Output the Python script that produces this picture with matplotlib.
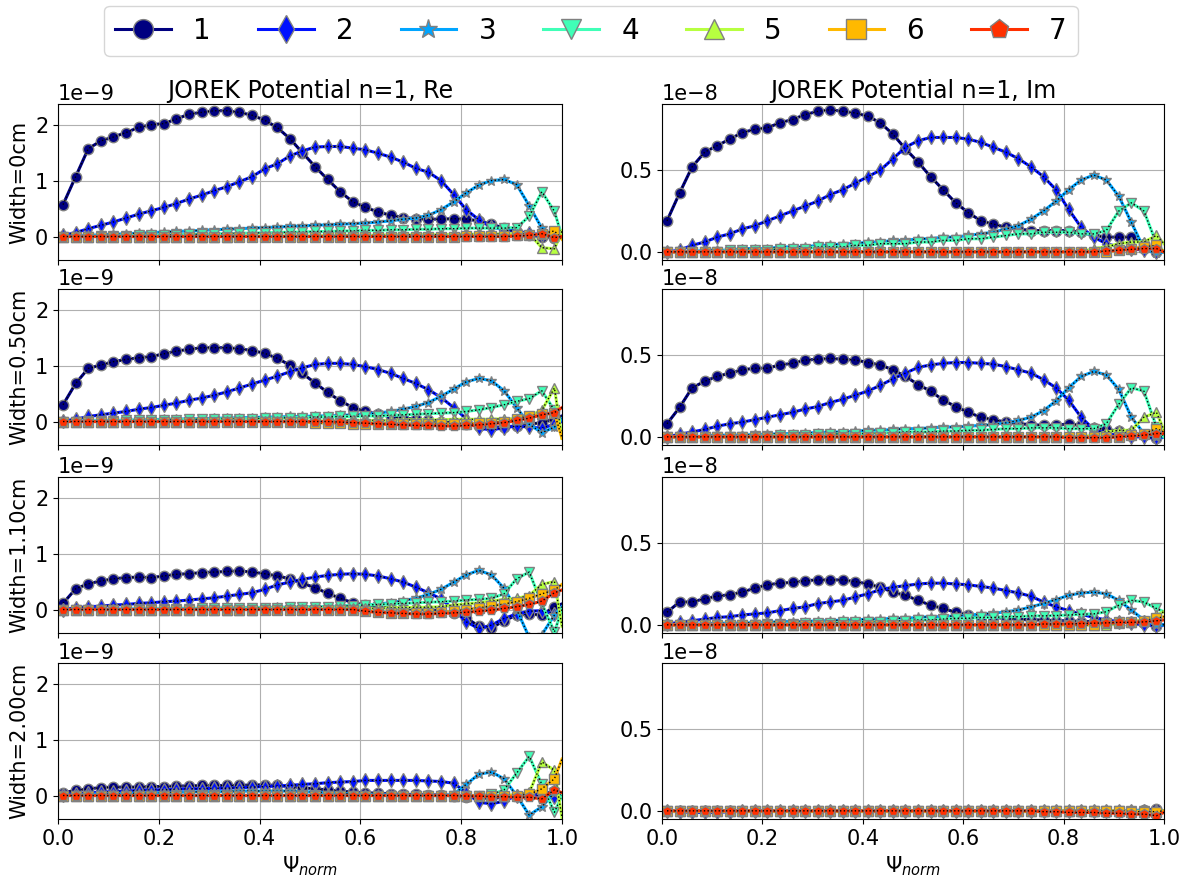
import matplotlib.pyplot as plt
import numpy as np

# radial coordinate (psi_norm) of the sampled points
psi = [0.010, 0.035, 0.060, 0.085, 0.110, 0.135, 0.160, 0.185, 0.210, 0.235,
       0.260, 0.285, 0.310, 0.335, 0.360, 0.385, 0.410, 0.435, 0.460, 0.485,
       0.510, 0.535, 0.560, 0.585, 0.610, 0.635, 0.660, 0.685, 0.710, 0.735,
       0.760, 0.785, 0.810, 0.835, 0.860, 0.885, 0.910, 0.935, 0.960, 0.985,
       1.000]

modes = ["1", "2", "3", "4", "5", "6", "7"]
widths = ["0", "0.50", "1.10", "2.00"]

# ---- Real part, units of 1e-9 ----
re_w0_m1 = [0.57, 1.07, 1.57, 1.71, 1.78, 1.86, 1.95, 2.00, 2.02, 2.10,
            2.19, 2.22, 2.25, 2.25, 2.22, 2.17, 2.08, 1.95, 1.75, 1.50,
            1.25, 1.02, 0.80, 0.62, 0.52, 0.44, 0.38, 0.34, 0.32, 0.31,
            0.31, 0.32, 0.31, 0.28, 0.22, 0.15, 0.08, 0.03, 0.00, -0.02,
            0.00]
re_w0_m2 = [0.02, 0.07, 0.14, 0.20, 0.26, 0.33, 0.40, 0.46, 0.52, 0.59,
            0.67, 0.74, 0.82, 0.89, 0.98, 1.07, 1.21, 1.30, 1.44, 1.53,
            1.60, 1.61, 1.61, 1.58, 1.55, 1.49, 1.42, 1.33, 1.22, 1.15,
            1.00, 0.75, 0.48, 0.30, 0.17, 0.12, 0.09, 0.06, 0.03, 0.00,
            0.00]
re_w0_m3 = [0.00, 0.01, 0.02, 0.03, 0.04, 0.05, 0.06, 0.07, 0.08, 0.09,
            0.10, 0.11, 0.12, 0.13, 0.14, 0.15, 0.16, 0.17, 0.18, 0.19,
            0.20, 0.21, 0.22, 0.23, 0.24, 0.26, 0.28, 0.31, 0.33, 0.38,
            0.48, 0.62, 0.78, 0.92, 1.00, 1.02, 0.93, 0.55, 0.15, 0.00,
            0.00]
re_w0_m4 = [0.00, 0.00, 0.00, 0.01, 0.01, 0.01, 0.02, 0.02, 0.03, 0.03,
            0.04, 0.04, 0.05, 0.05, 0.06, 0.06, 0.07, 0.07, 0.08, 0.08,
            0.09, 0.09, 0.10, 0.10, 0.11, 0.11, 0.12, 0.12, 0.13, 0.13,
            0.14, 0.14, 0.15, 0.15, 0.15, 0.15, 0.16, 0.36, 0.80, 0.45,
            0.00]
re_w0_m5 = [0.00, 0.00, 0.00, 0.00, 0.00, 0.00, 0.00, 0.00, 0.00, 0.00,
            0.00, 0.00, 0.00, 0.00, 0.01, 0.01, 0.01, 0.01, 0.01, 0.01,
            0.01, 0.02, 0.02, 0.02, 0.02, 0.02, 0.03, 0.03, 0.03, 0.03,
            0.03, 0.04, 0.04, 0.04, 0.04, 0.05, 0.05, 0.05, -0.20, -0.22,
            0.10]
re_w0_m6 = [0.00, 0.00, 0.00, 0.00, 0.00, 0.00, 0.00, 0.00, 0.00, 0.00,
            0.00, 0.00, 0.00, 0.00, 0.00, 0.00, 0.00, 0.00, 0.00, 0.00,
            0.00, 0.00, 0.00, 0.00, 0.00, 0.00, 0.00, 0.00, 0.00, 0.00,
            0.00, 0.00, 0.01, 0.01, 0.01, 0.01, 0.02, 0.02, 0.05, 0.10,
            -0.05]
re_w0_m7 = [0.00, 0.00, 0.00, 0.00, 0.00, 0.00, 0.00, 0.00, 0.00, 0.00,
            0.00, 0.00, 0.00, 0.00, 0.00, 0.00, 0.00, 0.00, 0.00, 0.00,
            0.00, 0.00, 0.00, 0.00, 0.00, 0.00, 0.00, 0.00, 0.00, 0.00,
            0.00, 0.00, 0.00, 0.00, 0.00, 0.00, 0.01, 0.02, 0.05, -0.02,
            0.00]

re_w050_m1 = [0.30, 0.68, 0.95, 1.01, 1.07, 1.11, 1.14, 1.16, 1.21, 1.26,
              1.29, 1.32, 1.32, 1.32, 1.30, 1.27, 1.22, 1.13, 1.01, 0.86,
              0.69, 0.52, 0.37, 0.25, 0.18, 0.13, 0.09, 0.06, 0.04, 0.02,
              0.00, -0.02, -0.05, -0.08, -0.10, -0.10, -0.08, -0.05, -0.02, 0.05,
              0.10]
re_w050_m2 = [0.01, 0.04, 0.09, 0.12, 0.15, 0.18, 0.22, 0.25, 0.29, 0.33,
              0.38, 0.42, 0.47, 0.53, 0.60, 0.67, 0.74, 0.81, 0.89, 0.96,
              1.02, 1.04, 1.04, 1.02, 0.98, 0.93, 0.86, 0.77, 0.68, 0.57,
              0.43, 0.25, 0.05, -0.12, -0.15, -0.11, -0.08, -0.10, -0.12, -0.05,
              0.00]
re_w050_m3 = [0.00, 0.00, 0.01, 0.01, 0.02, 0.02, 0.03, 0.03, 0.04, 0.04,
              0.05, 0.05, 0.06, 0.06, 0.07, 0.07, 0.08, 0.08, 0.09, 0.09,
              0.10, 0.10, 0.11, 0.12, 0.13, 0.15, 0.18, 0.22, 0.27, 0.34,
              0.45, 0.58, 0.71, 0.77, 0.73, 0.55, 0.25, -0.05, -0.20, -0.10,
              0.05]
re_w050_m4 = [0.00, 0.00, 0.01, 0.01, 0.01, 0.02, 0.02, 0.02, 0.03, 0.03,
              0.04, 0.04, 0.04, 0.05, 0.05, 0.05, 0.06, 0.06, 0.07, 0.07,
              0.08, 0.08, 0.09, 0.09, 0.10, 0.10, 0.11, 0.12, 0.13, 0.14,
              0.15, 0.16, 0.18, 0.21, 0.25, 0.30, 0.36, 0.41, 0.55, 0.20,
              -0.20]
re_w050_m5 = [0.00, 0.00, 0.00, 0.00, 0.00, 0.00, 0.00, 0.00, 0.00, 0.00,
              0.00, 0.00, 0.00, 0.01, 0.01, 0.01, 0.01, 0.01, 0.01, 0.01,
              0.01, 0.01, 0.02, 0.02, 0.02, 0.02, 0.02, 0.03, 0.03, 0.03,
              0.03, 0.04, 0.04, 0.04, 0.04, 0.05, 0.05, 0.10, 0.20, 0.60,
              -0.30]
re_w050_m6 = [0.00, 0.00, 0.00, 0.00, 0.00, 0.00, 0.00, 0.00, 0.00, 0.00,
              0.00, 0.00, 0.00, 0.00, 0.00, 0.00, 0.00, 0.00, -0.01, -0.01,
              -0.02, -0.03, -0.03, -0.04, -0.04, -0.05, -0.05, -0.05, -0.05, -0.05,
              -0.05, -0.04, -0.04, -0.03, -0.02, 0.00, 0.05, 0.10, 0.13, 0.15,
              -0.30]
re_w050_m7 = [0.00, 0.00, 0.00, 0.00, 0.00, 0.00, 0.00, 0.00, 0.00, 0.00,
              0.00, 0.00, 0.00, 0.00, 0.00, 0.00, 0.00, 0.00, 0.00, 0.00,
              0.00, 0.00, -0.01, -0.02, -0.03, -0.04, -0.05, -0.06, -0.07, -0.07,
              -0.08, -0.08, -0.07, -0.06, -0.04, -0.02, 0.02, 0.06, 0.12, 0.16,
              0.25]

re_w110_m1 = [0.11, 0.37, 0.46, 0.51, 0.55, 0.57, 0.58, 0.57, 0.60, 0.63,
              0.64, 0.66, 0.67, 0.68, 0.69, 0.67, 0.64, 0.60, 0.55, 0.47,
              0.39, 0.29, 0.20, 0.12, 0.08, 0.05, 0.03, 0.02, 0.01, 0.00,
              -0.02, -0.06, -0.15, -0.30, -0.33, -0.20, -0.10, -0.08, -0.10, 0.05,
              0.10]
re_w110_m2 = [0.00, 0.03, 0.05, 0.06, 0.08, 0.09, 0.11, 0.12, 0.14, 0.15,
              0.17, 0.19, 0.21, 0.24, 0.27, 0.30, 0.36, 0.44, 0.49, 0.54,
              0.58, 0.61, 0.63, 0.64, 0.63, 0.60, 0.55, 0.49, 0.40, 0.30,
              0.19, 0.00, -0.22, -0.34, -0.28, -0.16, -0.08, -0.03, -0.02, -0.08,
              0.00]
re_w110_m3 = [0.00, 0.00, 0.00, 0.00, 0.01, 0.01, 0.01, 0.01, 0.01, 0.02,
              0.02, 0.02, 0.02, 0.03, 0.03, 0.03, 0.03, 0.04, 0.04, 0.04,
              0.05, 0.05, 0.06, 0.07, 0.08, 0.10, 0.12, 0.16, 0.20, 0.27,
              0.36, 0.49, 0.62, 0.70, 0.62, 0.38, 0.00, -0.50, -0.45, -0.10,
              0.05]
re_w110_m4 = [0.00, 0.00, 0.00, 0.00, 0.00, 0.00, 0.01, 0.01, 0.01, 0.01,
              0.01, 0.02, 0.02, 0.02, 0.02, 0.03, 0.03, 0.03, 0.04, 0.04,
              0.05, 0.05, 0.06, 0.07, 0.08, 0.09, 0.10, 0.11, 0.12, 0.13,
              0.14, 0.15, 0.17, 0.18, 0.20, 0.28, 0.55, 0.67, 0.10, -0.40,
              0.00]
re_w110_m5 = [0.00, 0.00, 0.00, 0.00, 0.00, 0.00, 0.00, 0.00, 0.00, 0.00,
              0.00, 0.00, 0.00, 0.00, 0.00, 0.00, 0.01, 0.01, 0.01, 0.01,
              0.01, 0.01, 0.02, 0.02, 0.02, 0.02, 0.03, 0.03, 0.04, 0.04,
              0.05, 0.08, 0.10, 0.12, 0.15, 0.18, 0.20, 0.25, 0.45, 0.50,
              -0.30]
re_w110_m6 = [0.00, 0.00, 0.00, 0.00, 0.00, 0.00, 0.00, 0.00, 0.00, 0.00,
              0.00, 0.00, 0.00, 0.00, 0.00, 0.00, 0.00, 0.00, 0.00, 0.00,
              0.00, 0.00, 0.00, 0.00, -0.03, -0.05, -0.06, -0.07, -0.07, -0.06,
              -0.05, -0.03, 0.00, 0.03, 0.06, 0.10, 0.14, 0.20, 0.28, 0.35,
              0.45]
re_w110_m7 = [0.00, 0.00, 0.00, 0.00, 0.00, 0.00, 0.00, 0.00, 0.00, 0.00,
              0.00, 0.00, 0.00, 0.00, 0.00, 0.00, 0.00, 0.00, 0.00, 0.00,
              0.00, 0.00, 0.00, 0.00, -0.03, -0.05, -0.06, -0.07, -0.08, -0.08,
              -0.07, -0.06, -0.05, -0.03, -0.01, 0.02, 0.05, 0.09, 0.15, 0.30,
              0.35]

re_w200_m1 = [0.05, 0.09, 0.12, 0.14, 0.15, 0.15, 0.15, 0.16, 0.16, 0.17,
              0.17, 0.18, 0.18, 0.18, 0.18, 0.19, 0.19, 0.18, 0.16, 0.14,
              0.12, 0.10, 0.08, 0.06, 0.05, 0.04, 0.03, 0.02, 0.02, 0.01,
              0.01, 0.00, -0.02, -0.05, -0.05, -0.03, 0.00, 0.02, 0.05, 0.05,
              0.00]
re_w200_m2 = [0.01, 0.03, 0.05, 0.06, 0.07, 0.08, 0.09, 0.10, 0.10, 0.11,
              0.12, 0.12, 0.13, 0.13, 0.14, 0.15, 0.16, 0.17, 0.18, 0.20,
              0.21, 0.23, 0.24, 0.25, 0.27, 0.27, 0.27, 0.27, 0.27, 0.26,
              0.25, 0.22, 0.05, -0.12, -0.15, -0.10, 0.00, 0.02, 0.00, -0.02,
              0.00]
re_w200_m3 = [0.00, 0.01, 0.02, 0.03, 0.03, 0.04, 0.04, 0.05, 0.05, 0.06,
              0.06, 0.07, 0.07, 0.07, 0.08, 0.08, 0.08, 0.08, 0.08, 0.07,
              0.06, 0.05, 0.04, 0.03, 0.02, 0.02, 0.01, 0.01, 0.00, 0.00,
              0.00, 0.02, 0.20, 0.38, 0.42, 0.30, 0.00, -0.35, -0.20, 0.05,
              0.00]
re_w200_m4 = [0.00, 0.00, 0.00, 0.00, 0.00, 0.00, 0.00, 0.00, 0.00, 0.00,
              0.00, 0.00, 0.00, 0.00, 0.00, 0.00, 0.00, 0.00, 0.00, 0.00,
              0.00, 0.00, 0.00, 0.00, 0.00, 0.00, 0.00, 0.00, 0.00, 0.00,
              0.00, 0.00, 0.00, 0.00, 0.02, 0.10, 0.40, 0.70, 0.20, -0.30,
              0.00]
re_w200_m5 = [0.00, 0.00, 0.00, 0.00, 0.00, 0.00, 0.00, 0.00, 0.00, 0.00,
              0.00, 0.00, 0.00, 0.00, 0.00, 0.00, 0.00, 0.00, 0.00, 0.00,
              0.00, 0.00, 0.00, 0.00, 0.00, 0.00, 0.00, 0.00, 0.00, 0.00,
              0.00, 0.00, 0.00, 0.00, 0.00, 0.00, 0.02, 0.05, 0.60, 0.45,
              -0.40]
re_w200_m6 = [0.00, 0.00, 0.00, 0.00, 0.00, 0.00, 0.00, 0.00, 0.00, 0.00,
              0.00, 0.00, 0.00, 0.00, 0.00, 0.00, 0.00, 0.00, 0.00, 0.00,
              0.00, 0.00, 0.00, 0.00, 0.00, 0.00, 0.00, 0.00, 0.00, 0.00,
              0.00, 0.00, 0.00, 0.00, 0.00, 0.00, 0.00, 0.02, 0.12, 0.30,
              0.65]
re_w200_m7 = [0.00, 0.00, 0.00, 0.00, 0.00, 0.00, 0.00, 0.00, 0.00, 0.00,
              0.00, 0.00, 0.00, 0.00, 0.00, 0.00, 0.00, 0.00, 0.00, 0.00,
              0.00, 0.00, 0.00, 0.00, 0.00, 0.00, 0.00, 0.00, 0.00, 0.00,
              0.00, 0.00, -0.01, -0.01, -0.02, -0.02, -0.03, -0.03, -0.06, 0.10,
              0.05]

# ---- Imaginary part, units of 1e-8 ----
im_w0_m1 = [0.19, 0.36, 0.52, 0.61, 0.65, 0.69, 0.73, 0.75, 0.76, 0.79,
            0.81, 0.84, 0.86, 0.87, 0.86, 0.85, 0.83, 0.79, 0.72, 0.63,
            0.55, 0.46, 0.38, 0.30, 0.24, 0.19, 0.17, 0.15, 0.14, 0.13,
            0.13, 0.13, 0.13, 0.12, 0.10, 0.09, 0.09, 0.09, 0.05, 0.00,
            0.00]
im_w0_m2 = [0.00, 0.01, 0.04, 0.06, 0.09, 0.11, 0.14, 0.16, 0.19, 0.22,
            0.25, 0.28, 0.31, 0.35, 0.38, 0.42, 0.46, 0.50, 0.57, 0.64,
            0.68, 0.70, 0.70, 0.70, 0.69, 0.67, 0.64, 0.61, 0.57, 0.52,
            0.46, 0.38, 0.26, 0.15, 0.09, 0.05, 0.03, 0.02, 0.01, 0.00,
            0.00]
im_w0_m3 = [0.00, 0.00, 0.00, 0.01, 0.01, 0.01, 0.02, 0.02, 0.02, 0.03,
            0.03, 0.03, 0.04, 0.04, 0.05, 0.05, 0.06, 0.06, 0.07, 0.07,
            0.08, 0.08, 0.09, 0.09, 0.10, 0.11, 0.12, 0.14, 0.16, 0.20,
            0.25, 0.31, 0.38, 0.44, 0.47, 0.44, 0.34, 0.18, 0.02, -0.01,
            0.00]
im_w0_m4 = [0.00, 0.00, 0.00, 0.00, 0.00, 0.01, 0.01, 0.01, 0.01, 0.02,
            0.02, 0.02, 0.03, 0.03, 0.03, 0.04, 0.04, 0.05, 0.05, 0.05,
            0.06, 0.06, 0.07, 0.07, 0.08, 0.08, 0.09, 0.10, 0.11, 0.11,
            0.12, 0.12, 0.12, 0.11, 0.11, 0.13, 0.25, 0.30, 0.25, 0.05,
            0.00]
im_w0_m5 = [0.00, 0.00, 0.00, 0.00, 0.00, 0.00, 0.00, 0.00, 0.00, 0.00,
            0.00, 0.00, 0.00, 0.00, 0.00, 0.00, 0.00, 0.00, 0.00, 0.00,
            0.00, 0.00, 0.00, 0.00, 0.00, 0.00, 0.00, 0.00, 0.00, 0.00,
            0.00, 0.00, 0.00, 0.00, 0.02, 0.03, 0.05, 0.06, 0.06, 0.10,
            0.05]
im_w0_m6 = [0.00, 0.00, 0.00, 0.00, 0.00, 0.00, 0.00, 0.00, 0.00, 0.00,
            0.00, 0.00, 0.00, 0.00, 0.00, 0.00, 0.00, 0.00, 0.00, 0.00,
            0.00, 0.00, 0.00, 0.00, 0.00, 0.00, 0.00, 0.00, 0.00, 0.00,
            0.00, 0.00, 0.00, 0.00, 0.00, 0.00, 0.01, 0.02, 0.03, 0.04,
            0.00]
im_w0_m7 = [0.000, 0.000, 0.000, 0.000, 0.000, 0.000, 0.000, 0.000, 0.000, 0.000,
            0.000, 0.000, 0.000, 0.000, 0.000, 0.000, 0.000, 0.000, 0.000, 0.000,
            0.000, 0.000, 0.000, 0.000, 0.000, 0.000, 0.000, 0.000, 0.000, 0.000,
            0.000, 0.000, 0.000, 0.000, 0.000, 0.005, 0.010, 0.015, 0.020, 0.020,
            0.000]

im_w050_m1 = [0.08, 0.18, 0.30, 0.34, 0.37, 0.39, 0.41, 0.42, 0.42, 0.44,
              0.45, 0.47, 0.475, 0.48, 0.475, 0.47, 0.455, 0.44, 0.41, 0.37,
              0.32, 0.28, 0.225, 0.185, 0.15, 0.12, 0.105, 0.09, 0.08, 0.075,
              0.07, 0.07, 0.08, 0.07, 0.055, 0.045, 0.035, 0.025, 0.01, -0.01,
              0.00]
im_w050_m2 = [0.00, 0.015, 0.03, 0.045, 0.065, 0.08, 0.09, 0.105, 0.12, 0.135,
              0.15, 0.17, 0.185, 0.21, 0.23, 0.255, 0.28, 0.315, 0.355, 0.39,
              0.425, 0.44, 0.45, 0.455, 0.455, 0.45, 0.445, 0.43, 0.41, 0.39,
              0.35, 0.30, 0.225, 0.12, 0.045, 0.02, 0.01, 0.00, 0.00, -0.01,
              0.00]
im_w050_m3 = [0.00, 0.00, 0.00, 0.005, 0.01, 0.01, 0.01, 0.015, 0.015, 0.02,
              0.02, 0.025, 0.025, 0.03, 0.03, 0.035, 0.04, 0.04, 0.045, 0.05,
              0.05, 0.055, 0.06, 0.06, 0.065, 0.07, 0.075, 0.085, 0.10, 0.12,
              0.16, 0.22, 0.30, 0.37, 0.40, 0.38, 0.29, 0.12, 0.02, 0.00,
              0.00]
im_w050_m4 = [0.00, 0.00, 0.00, 0.00, 0.00, 0.00, 0.00, 0.005, 0.005, 0.01,
              0.01, 0.01, 0.015, 0.015, 0.02, 0.02, 0.02, 0.025, 0.025, 0.03,
              0.03, 0.03, 0.035, 0.035, 0.04, 0.04, 0.045, 0.05, 0.05, 0.055,
              0.055, 0.055, 0.05, 0.05, 0.05, 0.08, 0.20, 0.30, 0.28, 0.06,
              0.00]
im_w050_m5 = [0.00, 0.00, 0.00, 0.00, 0.00, 0.00, 0.00, 0.00, 0.00, 0.00,
              0.00, 0.00, 0.00, 0.00, 0.00, 0.00, 0.00, 0.00, 0.00, 0.00,
              0.00, 0.00, 0.00, 0.00, 0.00, 0.00, 0.00, 0.00, 0.00, 0.00,
              0.00, 0.00, 0.00, 0.00, 0.01, 0.03, 0.04, 0.04, 0.12, 0.15,
              0.04]
im_w050_m6 = [0.00, 0.00, 0.00, 0.00, 0.00, 0.00, 0.00, 0.00, 0.00, 0.00,
              0.00, 0.00, 0.00, 0.00, 0.00, 0.00, 0.00, 0.00, 0.00, 0.00,
              0.00, 0.00, 0.00, 0.00, 0.00, 0.00, 0.00, 0.00, 0.00, 0.00,
              0.00, 0.00, 0.00, 0.00, 0.00, 0.00, 0.00, 0.01, 0.02, 0.05,
              0.03]
im_w050_m7 = [0.000, 0.000, 0.000, 0.000, 0.000, 0.000, 0.000, 0.000, 0.000, 0.000,
              0.000, 0.000, 0.000, 0.000, 0.000, 0.000, 0.000, 0.000, 0.000, 0.000,
              0.000, 0.000, 0.000, 0.000, 0.000, 0.000, 0.000, 0.000, 0.000, 0.000,
              0.000, 0.000, -0.005, -0.005, -0.005, -0.005, 0.000, 0.005, 0.010, 0.020,
              0.020]

im_w110_m1 = [0.077, 0.14, 0.14, 0.16, 0.175, 0.185, 0.20, 0.225, 0.245, 0.255,
              0.26, 0.27, 0.275, 0.275, 0.275, 0.265, 0.25, 0.23, 0.20, 0.18,
              0.15, 0.12, 0.10, 0.077, 0.06, 0.05, 0.045, 0.04, 0.035, 0.03,
              0.03, 0.025, 0.025, 0.02, 0.02, 0.02, 0.02, 0.015, 0.01, -0.005,
              0.00]
im_w110_m2 = [0.005, 0.015, 0.025, 0.035, 0.045, 0.05, 0.06, 0.067, 0.073, 0.087,
              0.10, 0.11, 0.13, 0.14, 0.15, 0.17, 0.19, 0.215, 0.23, 0.24,
              0.25, 0.255, 0.255, 0.25, 0.245, 0.235, 0.225, 0.21, 0.195, 0.175,
              0.14, 0.11, 0.087, 0.065, 0.045, 0.03, 0.02, 0.01, 0.00, -0.005,
              0.00]
im_w110_m3 = [0.00, 0.00, 0.005, 0.005, 0.01, 0.01, 0.01, 0.015, 0.015, 0.02,
              0.02, 0.02, 0.025, 0.025, 0.03, 0.03, 0.035, 0.035, 0.04, 0.04,
              0.045, 0.05, 0.05, 0.055, 0.06, 0.065, 0.07, 0.08, 0.09, 0.11,
              0.13, 0.155, 0.18, 0.195, 0.20, 0.19, 0.15, 0.09, 0.03, 0.00,
              0.00]
im_w110_m4 = [0.00, 0.00, 0.00, 0.00, 0.00, 0.00, 0.00, 0.00, 0.005, 0.005,
              0.005, 0.01, 0.01, 0.01, 0.015, 0.015, 0.02, 0.02, 0.025, 0.025,
              0.03, 0.03, 0.035, 0.04, 0.04, 0.045, 0.045, 0.05, 0.05, 0.055,
              0.055, 0.057, 0.06, 0.065, 0.067, 0.08, 0.12, 0.15, 0.14, 0.10,
              0.08]
im_w110_m5 = [0.00, 0.00, 0.00, 0.00, 0.00, 0.00, 0.00, 0.00, 0.00, 0.00,
              0.00, 0.00, 0.00, 0.00, 0.00, 0.00, 0.00, 0.00, 0.00, 0.00,
              0.00, 0.00, 0.00, 0.00, 0.00, 0.00, 0.00, 0.00, 0.00, 0.00,
              0.00, 0.00, 0.00, 0.00, 0.00, 0.00, 0.01, 0.02, 0.03, 0.06,
              0.08]
im_w110_m6 = [0.000, 0.000, 0.000, 0.000, 0.000, 0.000, 0.000, 0.000, 0.000, 0.000,
              0.000, 0.000, 0.000, 0.000, 0.000, 0.000, 0.000, 0.000, 0.000, 0.000,
              0.000, 0.000, 0.000, 0.000, 0.000, 0.000, 0.000, 0.000, 0.000, 0.000,
              0.000, 0.000, 0.000, 0.000, 0.000, 0.010, 0.015, 0.020, 0.025, 0.040,
              0.050]
im_w110_m7 = [0.000, 0.000, 0.000, 0.000, 0.000, 0.000, 0.000, 0.000, 0.000, 0.000,
              0.000, 0.000, 0.000, 0.000, 0.000, 0.000, 0.000, 0.000, 0.000, 0.000,
              0.000, 0.000, 0.000, 0.000, 0.000, 0.000, 0.000, 0.000, 0.000, 0.000,
              0.005, 0.005, 0.005, 0.008, 0.010, 0.012, 0.015, 0.015, 0.018, 0.025,
              0.030]

im_w200_m1 = [0.000, 0.000, 0.000, 0.000, 0.000, 0.000, 0.000, 0.000, 0.000, 0.000,
              0.000, 0.000, 0.000, 0.000, 0.000, 0.000, 0.000, 0.000, 0.000, 0.000,
              0.000, 0.000, 0.000, 0.000, 0.000, 0.000, 0.000, 0.000, 0.000, 0.000,
              0.000, 0.000, 0.000, 0.000, 0.000, 0.000, 0.000, 0.000, 0.005, 0.010,
              0.000]
im_w200_m2 = [0.000, -0.005, -0.010, -0.010, -0.010, -0.005, 0.000, 0.000, 0.000, 0.000,
              0.000, 0.000, 0.000, 0.000, 0.000, 0.000, 0.000, 0.000, 0.000, 0.000,
              0.000, 0.000, 0.000, 0.000, 0.000, 0.000, 0.000, 0.000, 0.000, 0.000,
              0.000, 0.000, 0.000, 0.000, 0.000, 0.000, 0.000, 0.000, 0.000, 0.000,
              0.000]
im_w200_m3 = [0.000, 0.000, 0.000, 0.000, 0.000, 0.000, 0.000, 0.000, 0.000, 0.000,
              0.000, 0.000, 0.000, 0.000, 0.000, 0.000, 0.000, 0.000, 0.000, 0.000,
              0.000, 0.000, 0.000, 0.000, 0.000, 0.000, 0.000, 0.000, 0.000, 0.000,
              0.000, 0.000, 0.000, 0.000, 0.000, 0.000, 0.000, 0.000, 0.000, 0.000,
              0.000]
im_w200_m4 = [0.000, 0.000, 0.000, 0.000, 0.000, 0.000, 0.000, 0.000, 0.000, 0.000,
              0.000, 0.000, 0.000, 0.000, 0.000, 0.000, 0.000, 0.000, 0.000, 0.000,
              0.000, 0.000, 0.000, 0.000, 0.000, 0.000, 0.000, 0.000, 0.000, 0.000,
              0.000, 0.000, 0.000, 0.000, 0.000, 0.000, 0.000, 0.000, 0.000, -0.005,
              0.000]
im_w200_m5 = [0.000, 0.000, 0.000, 0.000, 0.000, 0.000, 0.000, 0.000, 0.000, 0.000,
              0.000, 0.000, 0.000, 0.000, 0.000, 0.000, 0.000, 0.000, 0.000, 0.000,
              0.000, 0.000, 0.000, 0.000, 0.000, 0.000, 0.000, 0.000, 0.000, 0.000,
              0.000, 0.000, 0.000, 0.000, 0.000, 0.000, 0.000, 0.000, 0.000, 0.000,
              0.000]
im_w200_m6 = [0.000, 0.000, 0.000, 0.000, 0.000, 0.000, 0.000, 0.000, 0.000, 0.000,
              0.000, 0.000, 0.000, 0.000, 0.000, 0.000, 0.000, 0.000, 0.000, 0.000,
              0.000, 0.000, 0.000, 0.000, 0.000, 0.000, 0.000, 0.000, 0.000, 0.000,
              0.000, 0.000, 0.000, 0.000, 0.000, 0.000, 0.000, -0.005, -0.005, -0.005,
              0.000]
im_w200_m7 = [0.000, 0.000, 0.000, 0.000, 0.000, 0.000, 0.000, 0.000, 0.000, 0.000,
              0.000, 0.000, 0.000, 0.000, 0.000, 0.000, 0.000, 0.000, 0.000, 0.000,
              0.000, 0.000, 0.000, 0.000, 0.000, 0.000, 0.000, 0.000, 0.000, 0.000,
              -0.005, -0.005, -0.010, -0.010, -0.010, -0.015, -0.015, -0.020, -0.020, -0.030,
              -0.010]

re_panels = [
    [re_w0_m1, re_w0_m2, re_w0_m3, re_w0_m4, re_w0_m5, re_w0_m6, re_w0_m7],
    [re_w050_m1, re_w050_m2, re_w050_m3, re_w050_m4, re_w050_m5, re_w050_m6, re_w050_m7],
    [re_w110_m1, re_w110_m2, re_w110_m3, re_w110_m4, re_w110_m5, re_w110_m6, re_w110_m7],
    [re_w200_m1, re_w200_m2, re_w200_m3, re_w200_m4, re_w200_m5, re_w200_m6, re_w200_m7],
]
im_panels = [
    [im_w0_m1, im_w0_m2, im_w0_m3, im_w0_m4, im_w0_m5, im_w0_m6, im_w0_m7],
    [im_w050_m1, im_w050_m2, im_w050_m3, im_w050_m4, im_w050_m5, im_w050_m6, im_w050_m7],
    [im_w110_m1, im_w110_m2, im_w110_m3, im_w110_m4, im_w110_m5, im_w110_m6, im_w110_m7],
    [im_w200_m1, im_w200_m2, im_w200_m3, im_w200_m4, im_w200_m5, im_w200_m6, im_w200_m7],
]

colors = plt.cm.jet(np.arange(7) / 7)
markers = ['o', 'd', '*', 'v', '^', 's', 'p']

plt.rcParams['font.size'] = 15

fig = plt.figure(figsize=(11.82, 8.76), dpi=100)

W, H = 1182.0, 876.0
col_left = [58, 662]
col_width = [504, 502]
row_top = [104, 289, 477, 663]
row_h = 156

axes = []
for r in range(4):
    row = []
    for c in range(2):
        ax = fig.add_axes([col_left[c] / W, 1 - (row_top[r] + row_h) / H,
                           col_width[c] / W, row_h / H])
        row.append(ax)
    axes.append(row)


def draw(ax, curves, scale):
    for k in range(7):
        y = np.array(curves[k]) * scale
        ax.plot(psi, y, color=colors[k], lw=2.2, marker=markers[k], ms=7.5,
                mec='gray', mew=1.0, markevery=slice(0, 40), label=modes[k])
        ax.plot(psi, y, color='k', ls=':', lw=1.0)


for r in range(4):
    ax_re, ax_im = axes[r]
    draw(ax_re, re_panels[r], 1e-9)
    draw(ax_im, im_panels[r], 1e-8)

    ax_re.set_ylim(-0.42e-9, 2.37e-9)
    ax_re.set_yticks([0, 1e-9, 2e-9])
    ax_re.ticklabel_format(axis='y', style='sci', scilimits=(-9, -9))
    ax_im.set_ylim(-0.05e-8, 0.905e-8)
    ax_im.set_yticks([0, 0.5e-8])
    ax_im.ticklabel_format(axis='y', style='sci', scilimits=(-8, -8))

    ax_re.set_ylabel("Width=" + widths[r] + "cm")
    for ax in (ax_re, ax_im):
        ax.set_xlim(0, 1)
        ax.set_xticks([0, 0.2, 0.4, 0.6, 0.8, 1.0])
        ax.grid(True)
        if r < 3:
            ax.set_xticklabels([])
        else:
            ax.set_xlabel(r"$\Psi_{norm}$")

axes[0][0].set_title("JOREK Potential n=1, Re", fontsize=17, pad=4)
axes[0][1].set_title("JOREK Potential n=1, Im", fontsize=17, pad=4)

handles, labels = axes[0][0].get_legend_handles_labels()
fig.legend(handles, labels, loc='upper center', bbox_to_anchor=(0.5, 1.0),
           ncol=7, fontsize=20, markerscale=1.9, handlelength=2.0,
           columnspacing=1.7, borderpad=0.4, borderaxespad=0.2)

fig.savefig("out.png", dpi=100)
